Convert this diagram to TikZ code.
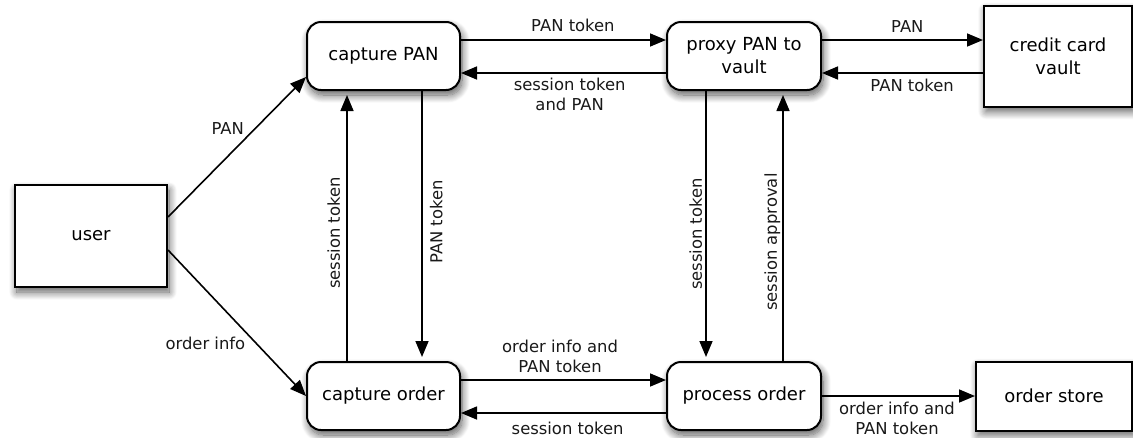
\documentclass[tikz,border=0pt]{standalone}
\usepackage{fontspec}
\setmainfont{DejaVu Sans}
\usetikzlibrary{arrows.meta,shadows.blur}
\begin{document}
\begin{tikzpicture}[x=1pt,y=-1pt,
  shadowed/.style={blur shadow={shadow xshift=2pt, shadow yshift=-5pt,
      shadow blur radius=8pt, shadow blur steps=12, shadow opacity=65}},
  box/.style={draw, line width=2pt, fill=white, align=center, inner sep=0pt,
      text=black, font=\fontsize{18}{23}\selectfont, shadowed},
  sqbox/.style={box},
  rndbox/.style={box, rounded corners=14pt, minimum width=153pt, minimum height=68pt},
  flow/.style={line width=1.6pt, -{Triangle[length=16pt,width=13pt]}},
  vflow/.style={flow, shorten >=4pt},
  lbl/.style={font=\fontsize{16.4}{20.5}\selectfont, align=center, inner sep=2pt, text=black!90}
]
\useasboundingbox (0,0) rectangle (1133,437);

% actors, stores and processing steps
\node[sqbox, minimum width=152pt, minimum height=102pt] (user) at (91,236) {user};
\node[rndbox] (cpan) at (383.5,56) {capture PAN};
\node[rndbox, minimum width=154pt] (proxy) at (744,56) {proxy PAN to\\vault};
\node[sqbox, minimum width=148pt, minimum height=101pt] (vault) at (1058,56) {credit card\\vault};
\node[rndbox] (cord) at (383.5,396) {capture order};
\node[rndbox, minimum width=154pt] (proc) at (744,396) {process order};
\node[sqbox, minimum width=156pt, minimum height=69pt] (store) at (1054,396) {order store};

% user input
\draw[flow] ([yshift=19pt]user.east) -- ([yshift=-21pt]cpan.west)
  node[lbl, pos=0.57, anchor=south east] {PAN};
\draw[flow] ([yshift=-14pt]user.east) -- (cord.west)
  node[lbl, pos=0.58, anchor=north east] {order info};

% card capture and vault exchange
\draw[flow] ([yshift=16pt]cpan.east) -- ([yshift=16pt]proxy.west)
  node[lbl, pos=0.546, above=5pt] {PAN token};
\draw[flow] ([yshift=-17pt]proxy.west) -- ([yshift=-17pt]cpan.east)
  node[lbl, pos=0.47, below=2pt] {session token\\and PAN};
\draw[flow] ([yshift=16pt]proxy.east) -- ([yshift=16pt]vault.west)
  node[lbl, pos=0.53, above=5pt] {PAN};
\draw[flow] ([yshift=-17pt]vault.west) -- ([yshift=-17pt]proxy.east)
  node[lbl, pos=0.44, below=3pt] {PAN token};

% order handling
\draw[flow] ([yshift=16pt]cord.east) -- ([yshift=16pt]proc.west)
  node[lbl, pos=0.483, above=4pt] {order info and\\PAN token};
\draw[flow] ([yshift=-17pt]proc.west) -- ([yshift=-17pt]cord.east)
  node[lbl, pos=0.48, below=6pt] {session token};
\draw[flow] (proc.east) -- (store.west)
  node[lbl, pos=0.49, below=3pt] {order info and\\PAN token};

% vertical links between the two rows
\draw[vflow] ([xshift=-36.5pt]cord.north) -- ([xshift=-36.5pt]cpan.south)
  node[lbl, pos=0.474, rotate=90, anchor=south, inner ysep=6pt] {session token};
\draw[vflow] ([xshift=38.5pt]cpan.south) -- ([xshift=38.5pt]cord.north)
  node[lbl, pos=0.485, rotate=90, anchor=north, inner ysep=7pt] {PAN token};
\draw[vflow] ([xshift=-38pt]proxy.south) -- ([xshift=-38pt]proc.north)
  node[lbl, pos=0.53, rotate=90, anchor=south, inner ysep=3pt] {session token};
\draw[vflow] ([xshift=39pt]proc.north) -- ([xshift=39pt]proxy.south)
  node[lbl, pos=0.44, rotate=90, anchor=south, inner ysep=2pt] {session approval};
\end{tikzpicture}
\end{document}
